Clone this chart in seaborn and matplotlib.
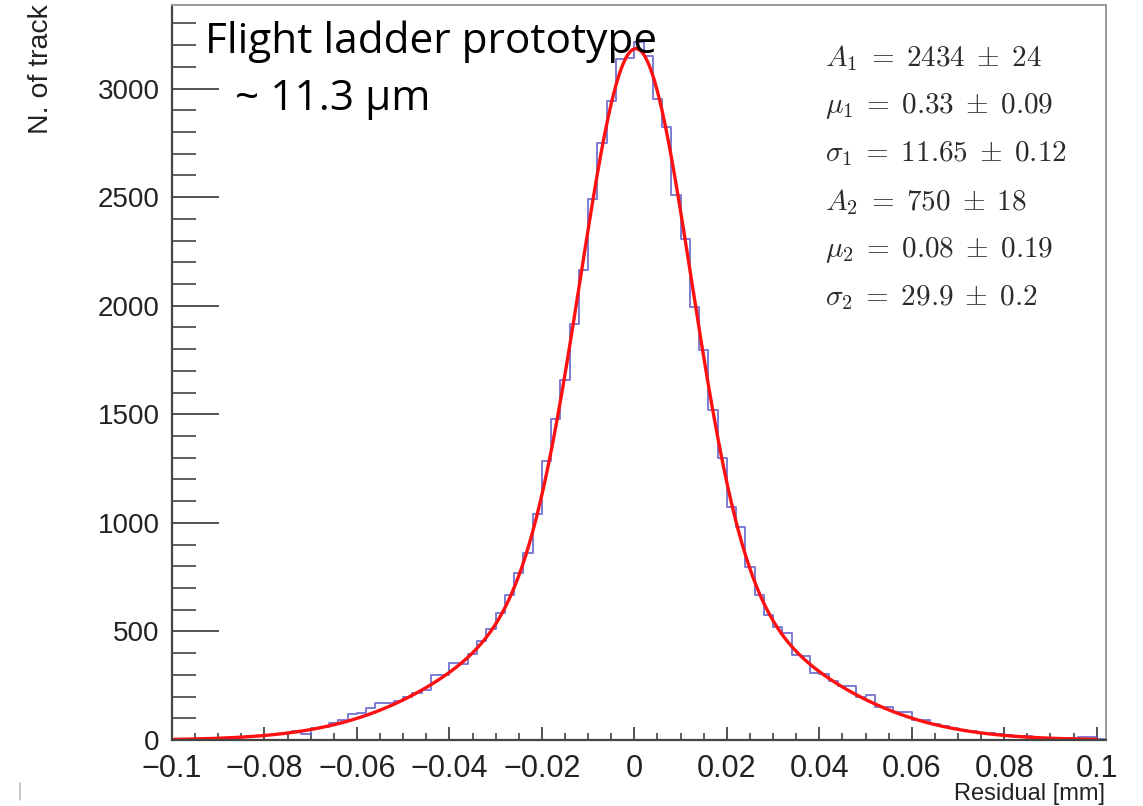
import numpy as np
import pandas as pd
import seaborn as sns
import matplotlib
matplotlib.use("Agg")
import matplotlib.pyplot as plt
from matplotlib.ticker import MultipleLocator, FuncFormatter
from matplotlib.lines import Line2D

# histogram: 101 bins of 2 um from -0.1 mm
bin_lo = -0.1
bin_w = 0.002
counts = [2, 4, 3, 6, 8, 9, 12, 15, 18, 17,
          22, 26, 33, 43, 26, 54, 58, 76, 92, 120,
          123, 146, 169, 169, 180, 196, 215, 230, 299, 300,
          356, 352, 398, 455, 512, 585, 667, 770, 863, 1043,
          1284, 1477, 1656, 1917, 2166, 2492, 2748, 2941, 3136, 3140,
          3215, 3150, 2950, 2825, 2512, 2308, 1994, 1794, 1521, 1301,
          1071, 979, 797, 667, 575, 520, 491, 390, 386, 307,
          305, 272, 250, 248, 200, 207, 153, 150, 130, 128,
          92, 90, 75, 66, 55, 45, 41, 31, 30, 28,
          22, 20, 18, 5, 11, 9, 8, 7, 15, 14, 5]

# double gaussian fit results (mu, sigma in um)
fit_A = [2434, 750]
fit_mu = [0.33, 0.08]
fit_sigma = [11.65, 29.9]
fit_err = ["24", "0.09", "0.12", "18", "0.19", "0.2"]

edges = bin_lo + bin_w * np.arange(len(counts) + 1)
centers = edges[:-1] + bin_w / 2
df = pd.DataFrame({"residual": centers, "n": counts})

xf = np.linspace(-0.1, 0.1, 801)
yf = np.zeros_like(xf)
for a, m, s in zip(fit_A, fit_mu, fit_sigma):
    yf += a * np.exp(-0.5 * ((xf - m / 1000) / (s / 1000)) ** 2)
fit_df = pd.DataFrame({"residual": xf, "f": yf})

sns.set_style("white")
plt.rcParams["font.family"] = ["Liberation Sans", "DejaVu Sans"]
plt.rcParams["mathtext.fontset"] = "cm"

fig = plt.figure(figsize=(11.43, 8.06), dpi=100)
ax = fig.add_axes([0.1505, 0.0819, 0.8171, 0.9119])

sns.histplot(data=df, x="residual", weights="n", binwidth=bin_w,
             binrange=(edges[0], edges[-1]), element="step",
             fill=False, color="#5050c8", linewidth=1.4, alpha=0.75, ax=ax)
sns.lineplot(data=fit_df, x="residual", y="f", color="#ff1010", linewidth=2.4, ax=ax)

ax.set_xlim(-0.1, 0.102)
ax.set_ylim(0, 3385)

ax.xaxis.set_major_locator(MultipleLocator(0.02))
ax.xaxis.set_minor_locator(MultipleLocator(0.005))
ax.yaxis.set_major_locator(MultipleLocator(500))
ax.yaxis.set_minor_locator(MultipleLocator(100))

def xfmt(v, pos):
    if abs(v) < 1e-9:
        return "0"
    s = "%g" % round(v, 3)
    return s.replace("-", "\u2212")

ax.xaxis.set_major_formatter(FuncFormatter(xfmt))
ax.tick_params(axis="x", which="both", bottom=True, top=False)
ax.tick_params(axis="y", which="both", left=True, right=False)
ax.tick_params(axis="x", which="major", direction="in", length=9.5, width=1.2,
               labelsize=22, pad=10, colors="#333333", labelcolor="#222222")
ax.tick_params(axis="x", which="minor", direction="in", length=5, width=1.1, colors="#333333")
ax.tick_params(axis="y", which="major", direction="in", length=34, width=1.2,
               labelsize=20, pad=9, colors="#333333", labelcolor="#222222")
ax.tick_params(axis="y", which="minor", direction="in", length=17, width=1.1, colors="#333333")

for side in ["left", "bottom"]:
    ax.spines[side].set_color("#444444")
    ax.spines[side].set_linewidth(1.6)
for side in ["right", "top"]:
    ax.spines[side].set_color("#999999")
    ax.spines[side].set_linewidth(1.4)

ax.set_xlabel("")
ax.set_ylabel("")
fig.text(1105 / 1143, 1 - 794 / 806, "Residual [mm]", fontsize=17, color="#222222",
         ha="right", va="center")
fig.text(41 / 1143, 1 - 4 / 806, "N. of track", fontsize=20.5, color="#222222",
         rotation=90, ha="center", va="top")

ax.text(0.0353, 0.935, "Flight ladder prototype", transform=ax.transAxes,
        fontsize=30.5, family=["Open Sans", "DejaVu Sans"], va="baseline", ha="left",
        color="black")
ax.text(0.0675, 0.857, "~ 11.3 \u03bcm", transform=ax.transAxes,
        fontsize=30.5, family=["Open Sans", "DejaVu Sans"], va="baseline", ha="left",
        color="black")

labels = [r"$A_1 \;=\; %d \;\pm\; %s$" % (fit_A[0], fit_err[0]),
          r"$\mu_1 \;=\; %.2f \;\pm\; %s$" % (fit_mu[0], fit_err[1]),
          r"$\sigma_1 \;=\; %.2f \;\pm\; %s$" % (fit_sigma[0], fit_err[2]),
          r"$A_2 \;=\; %d \;\pm\; %s$" % (fit_A[1], fit_err[3]),
          r"$\mu_2 \;=\; %.2f \;\pm\; %s$" % (fit_mu[1], fit_err[4]),
          r"$\sigma_2 \;=\; %.1f \;\pm\; %s$" % (fit_sigma[1], fit_err[5])]
for i, lab in enumerate(labels):
    ax.text(0.699, 0.928 - i * 0.0653, lab, transform=ax.transAxes, fontsize=21,
            va="center", ha="left", color="#2a2a2a")

fig.add_artist(Line2D([0.0175, 0.0175], [0.008, 0.028], color="#bbbbbb", linewidth=1.2))

fig.savefig("out.png", dpi=100)
